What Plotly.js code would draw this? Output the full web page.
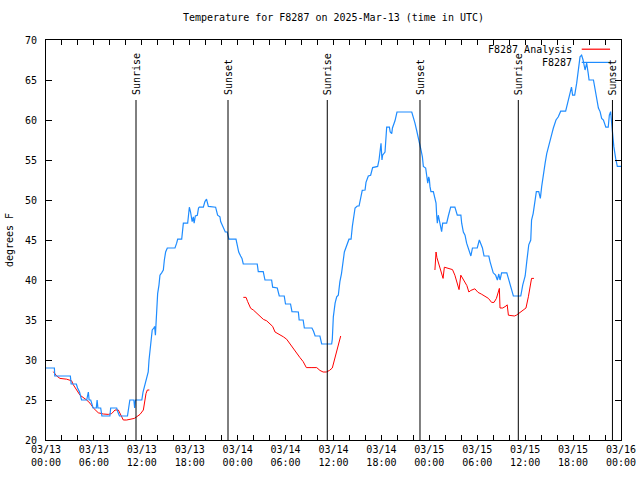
<!DOCTYPE html>
<html>
<head>
<meta charset="utf-8">
<script src="https://cdn.plot.ly/plotly-3.0.1.min.js"></script>
<style>html,body{margin:0;padding:0;background:#fff;}#chart{width:640px;height:480px;}</style>
</head>
<body>
<div id="chart"></div>
<script>
// Hours since 2025-03-13 00:00 UTC
const obsHours = [0,1.05,1.1,3.05,3.15,3.8,3.95,4.2,4.45,5.1,5.3,5.4,5.6,5.9,6.3,6.4,6.5,6.85,7.0,8.0,8.1,8.85,9.0,9.2,10.2,10.35,10.5,11.0,11.1,11.2,12.0,12.15,12.5,12.8,12.9,13.1,13.3,13.5,13.6,13.7,13.77,13.85,13.98,14.15,14.27,14.48,14.69,14.82,14.98,15.19,16.15,16.36,16.49,16.99,17.11,17.2,17.74,17.87,17.95,18.1,18.3,18.45,18.55,18.7,18.95,19.1,19.2,19.7,19.9,20.1,20.2,20.33,21.24,21.35,21.49,21.78,21.87,22.05,22.3,22.45,22.7,22.83,22.9,23.79,23.96,24.13,24.37,24.54,24.7,26.45,26.58,27.2,27.42,28.25,28.38,28.96,29.21,29.83,29.99,30.62,30.8,31.6,31.7,32.2,32.35,33.3,33.5,33.7,34.3,34.52,35.77,35.85,35.98,36.2,36.4,36.6,36.8,37.0,37.36,37.65,37.94,38.2,38.36,38.7,38.98,39.2,39.4,39.6,39.95,40.07,40.36,40.65,40.9,41.53,41.7,41.82,41.95,42.07,42.15,42.45,42.58,42.66,43.0,43.1,43.29,43.38,43.7,43.95,45.8,46.0,46.2,46.4,46.62,46.83,46.96,47.13,47.25,47.54,47.67,47.8,47.92,48.0,48.08,48.2,48.5,48.7,48.84,48.92,49.0,49.12,49.25,49.4,49.54,49.67,50.17,50.38,50.67,51.2,51.5,51.95,52.05,52.26,52.47,52.67,52.89,53.09,53.2,53.4,54.0,54.26,54.45,54.65,54.85,55.45,55.6,55.8,56.0,56.3,56.52,56.7,56.85,57.05,57.7,57.9,58.1,58.3,58.52,59.45,59.7,59.85,60.0,60.2,60.45,60.7,60.8,61.0,61.2,61.4,61.7,61.9,62.07,62.3,62.5,62.7,62.9,63.1,63.3,63.53,63.86,64.15,64.45,65.07,65.2,65.4,65.6,65.8,65.94,66.2,66.45,66.66,66.87,67.07,67.25,67.5,67.7,67.9,68.0,68.55,68.75,68.96,69.17,69.38,69.58,69.8,70.1,70.4,70.54,70.7,70.83,70.96,71.1,71.33,71.54,72.0];
const obsTemps = [29,29,28,28,27,27,26.5,26,25,25,26,25,25,24,24,25,24,24,23,23,24,24,23.5,23,23,24,25,25,24,25,25,26,27.5,28.5,30,32.1,33.75,34,34.2,33.1,34.25,36.7,38.3,39.4,40.6,40.9,41.25,42.5,43.5,44,44,44.6,45.1,45.1,46.25,47.1,47.1,48.5,49.1,48.5,47.3,47.9,47.1,48,48.1,49,49.1,49.1,49.8,50.1,49.8,49.2,49.1,48.5,48.1,47.9,47.3,46.9,46.25,46,46,45.6,45.1,45.1,44.4,43.5,43,42.7,42,42,41.05,41.05,40,40,39.1,39,38,38,37,37,36.05,36,35,35,34,34,33.6,33,33,32,32,32.6,35.4,37.1,37.9,38.1,39.8,40.8,43.5,44.2,45.1,45.1,46.7,49,49.25,49.25,50.2,51.2,51.25,52.2,53,53.1,54.05,54.2,55,56.25,57.1,55,55.6,56,57.7,59.1,59.1,58.5,58.3,59,59.9,61,61,60.4,59.6,58.75,57.9,57.1,56.25,55.4,54.2,54,52.9,52.1,52.9,52.6,51.7,51.05,51.05,50.2,49.6,48.1,47.1,48.1,47.4,47.1,46.05,47.1,47.1,48,49.1,49.1,48.1,48.1,47.1,46,45.6,44.6,44,43.5,43,44,44,45,44.4,44,43,43,42.3,41.5,40.9,40.6,40,40.75,40,40.9,40.9,40.2,39.6,38.8,38,38,39.4,40.1,40.5,42.3,44.4,45,47.5,48.3,49.6,51.05,51.05,50.2,51.7,53.5,54.6,55.8,56.7,57.5,58.1,59,60,60.4,61.1,61.1,61.7,62.5,63.5,64.1,63.1,63.1,64.6,66.25,67.9,68.1,67.5,66.25,67.1,65.8,65,65,63.75,62.9,61.5,61.05,60.2,60,59.1,59.1,60.6,61.05,59.2,58.3,56.7,55.2,54.2,54.2];

// Analysis series (null = gap between segments)
const anaHours = [0.92,1.34,1.75,2.59,3.21,3.42,3.84,4.26,5.09,5.51,5.93,6.55,7.18,7.80,8.22,8.64,9.06,9.47,9.68,10.1,11.06,11.35,11.77,12.19,12.52,12.69,12.94,
  null,
  24.71,25.05,25.25,25.63,25.96,26.38,26.8,27.22,27.63,28.05,28.38,28.68,29.2,29.72,30.13,30.55,30.97,31.4,31.8,32.2,32.6,33.3,33.9,34.3,34.7,35.1,35.5,35.85,36.2,36.6,36.9,
  null,
  48.7,48.84,48.95,49.3,49.72,49.88,50.2,50.9,51.2,51.72,51.94,52.3,52.7,52.95,53.2,53.7,54.1,54.5,54.97,55.4,55.8,56.1,56.4,56.77,56.85,57.2,57.6,57.75,57.9,58.3,58.65,58.9,59.3,59.78,60.1,60.4,60.8,61.1];
const anaTemps = [28.54,28.0,27.7,27.6,27.4,26.9,26.25,25.6,25.0,24.6,24.0,23.4,23.25,23.2,23.3,23.75,23.75,22.9,22.5,22.5,22.7,22.9,23.2,23.75,25.8,26.25,26.25,
  null,
  37.83,37.83,37.3,36.46,36.25,35.9,35.5,35.08,34.9,34.5,34.2,33.5,33.25,32.9,32.6,32.0,31.5,30.75,30.3,29.8,29.05,29.05,29.05,28.7,28.5,28.5,28.7,29.0,30.4,31.9,33.0,
  null,
  41.25,43.5,42.8,41.7,40.2,41.6,41.5,41.3,40.6,38.8,40.6,40.05,39.3,38.5,38.7,38.9,38.45,38.25,38.0,37.7,37.2,37.2,37.7,38.95,36.5,36.5,36.75,36.9,35.6,35.5,35.5,35.6,35.9,36.25,36.5,37.9,40.2,40.2];

const sunHours = [11.27,22.79,35.22,46.83,59.14,70.93];
const sunLabels = ["Sunrise","Sunset","Sunrise","Sunset","Sunrise","Sunset"];

const tickHours = [0,6,12,18,24,30,36,42,48,54,60,66,72];
const tickLabels = ["03/13<br>00:00","03/13<br>06:00","03/13<br>12:00","03/13<br>18:00","03/14<br>00:00","03/14<br>06:00","03/14<br>12:00","03/14<br>18:00","03/15<br>00:00","03/15<br>06:00","03/15<br>12:00","03/15<br>18:00","03/16<br>00:00"];

const seriesNames = ["F8287 Analysis","F8287"];
const seriesColors = ["#ff0000","#1e8cff"];

const FONT = {family:"DejaVu Sans Mono, monospace", size:10, color:"#000"};

const traces = [
  {x: anaHours, y: anaTemps, type:"scatter", mode:"lines", name:seriesNames[0], connectgaps:false,
   line:{color:seriesColors[0], width:1}, hoverinfo:"skip"},
  {x: obsHours, y: obsTemps, type:"scatter", mode:"lines", name:seriesNames[1],
   line:{color:seriesColors[1], width:1.2}, hoverinfo:"skip"}
];

const shapes = sunHours.map(h => ({type:"line", xref:"x", yref:"y", x0:h, x1:h, y0:20, y1:62.5,
  line:{color:"#000", width:1}}));
const annotations = sunHours.map((h,i) => ({x:h, y:62.5, xref:"x", yref:"y", text:sunLabels[i],
  textangle:-90, showarrow:false, xanchor:"center", yanchor:"bottom", yshift:3, font:FONT}));

// manual legend (text left of sample line, top right)
const legY = [0.977, 0.944];
seriesNames.forEach((n,i) => {
  annotations.push({x:0.919, y:legY[i], xref:"paper", yref:"paper", text:n, showarrow:false,
    xanchor:"right", yanchor:"middle", font:FONT});
  shapes.push({type:"line", xref:"paper", yref:"paper", x0:0.9317, x1:0.981, y0:legY[i], y1:legY[i],
    line:{color:seriesColors[i], width:1.2}});
});

const layout = {
  width:640, height:480,
  margin:{l:46, r:19, t:40, b:40, pad:0},
  paper_bgcolor:"#fff", plot_bgcolor:"#fff",
  font:FONT,
  showlegend:false,
  title:{text:"Temperature for F8287 on 2025-Mar-13 (time in UTC)", font:FONT,
    x:0.5, xref:"paper", xanchor:"center", y:1, yref:"container", yanchor:"top", pad:{t:14}},
  xaxis:{range:[0,72], tickvals:tickHours, ticktext:tickLabels, ticks:"inside", ticklen:5,
    tickcolor:"#000", showline:true, linecolor:"#000", linewidth:1, mirror:"ticks",
    showgrid:false, zeroline:false, tickfont:FONT, fixedrange:true,
    minor:{dtick:2, tick0:0, ticks:"inside", ticklen:5, tickcolor:"#000", showgrid:false}},
  yaxis:{range:[20,70], dtick:5, tick0:20, ticks:"inside", ticklen:6, tickcolor:"#000",
    showline:true, linecolor:"#000", linewidth:1, mirror:"ticks", showgrid:false, zeroline:false,
    tickfont:FONT, ticklabelstandoff:6,
    title:{text:"degrees F", font:FONT, standoff:9}},
  shapes: shapes,
  annotations: annotations
};

Plotly.newPlot("chart", traces, layout, {staticPlot:true, displayModeBar:false});
</script>
</body>
</html>
